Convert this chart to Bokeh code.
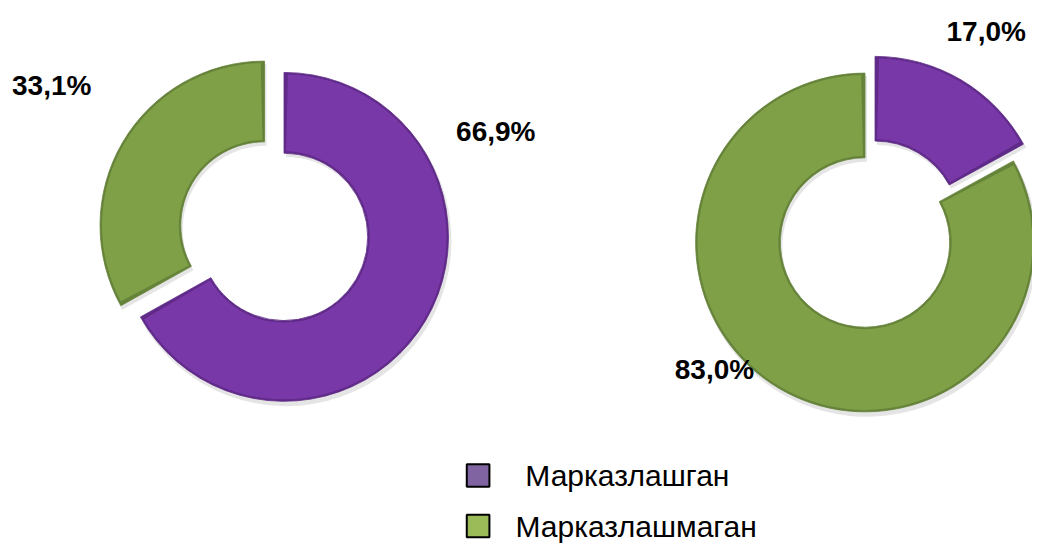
import math
from bokeh.plotting import figure
from bokeh.models import Range1d
from bokeh.core.properties import value
from bokeh.embed import file_html
from bokeh.resources import INLINE

# ---- data ----
categories = ["Марказлашган", "Марказлашмаган"]
left_values = [66.9, 33.1]
right_values = [17.0, 83.0]

slice_colors = ["#7938A8", "#80A048"]
edge_colors = ["#5F2A88", "#66833A"]
legend_colors = ["#8064A2", "#9BBB59"]

W, H = 1032, 543
IMG_W, IMG_H = 1048, 559
p = figure(width=W, height=H, output_backend="svg", toolbar_location=None,
           x_range=Range1d(0, IMG_W), y_range=Range1d(0, IMG_H),
           min_border=0, outline_line_color=None)
p.axis.visible = False
p.grid.visible = False
p.background_fill_color = "white"
p.border_fill_color = "white"

def Y(img_y):
    return IMG_H - img_y

def donut(vals, cx, cy, R, r, d):
    total = sum(vals)
    c0 = 0.0
    for i, v in enumerate(vals):
        c1 = c0 + v / total
        start = math.pi / 2 - 2 * math.pi * c1
        end = math.pi / 2 - 2 * math.pi * c0
        mid = (start + end) / 2
        x = cx + d * math.cos(mid)
        y = Y(cy) + d * math.sin(mid)
        # soft shadow
        p.annular_wedge(x=[x + 2], y=[y - 4], inner_radius=r, outer_radius=R + 1,
                        start_angle=start, end_angle=end, fill_color="#000000",
                        fill_alpha=0.10, line_color=None)
        # slice with subtle bevel edge
        p.annular_wedge(x=[x], y=[y], inner_radius=r, outer_radius=R,
                        start_angle=start, end_angle=end, fill_color=edge_colors[i],
                        line_color=edge_colors[i], line_width=0.8)
        p.annular_wedge(x=[x], y=[y], inner_radius=r + 2, outer_radius=R - 2,
                        start_angle=start + 2.0 / r, end_angle=end - 2.0 / r,
                        fill_color=slice_colors[i], line_color=None)
        c0 = c1

donut(left_values, 278, 237.5, 167, 85, 11.5)
donut(right_values, 883, 240.5, 172, 86, 10)

def fmt(v):
    return f"{v:.1f}".replace(".", ",") + "%"

label_x = [503, 52, 1001, 725]
label_y = [135, 88, 32, 380]
label_txt = [fmt(left_values[0]), fmt(left_values[1]), fmt(right_values[0]), fmt(right_values[1])]
p.text(x=label_x, y=[Y(v) for v in label_y], text=label_txt,
       text_font=value("Liberation Sans"), text_font_size="28px",
       text_font_style="bold", text_color="black",
       text_align="center", text_baseline="middle")

# legend
sq_y = [489, 541]
txt_x = [533, 523]
p.rect(x=[485, 485], y=[Y(v) for v in sq_y], width=23, height=23,
       fill_color=legend_colors, line_color="black", line_width=2)
p.text(x=txt_x, y=[Y(v) for v in sq_y], text=categories,
       text_font=value("Liberation Sans"), text_font_size="30px",
       text_color="black", text_align="left", text_baseline="middle")

open("out.html", "w").write(file_html(p, INLINE))
